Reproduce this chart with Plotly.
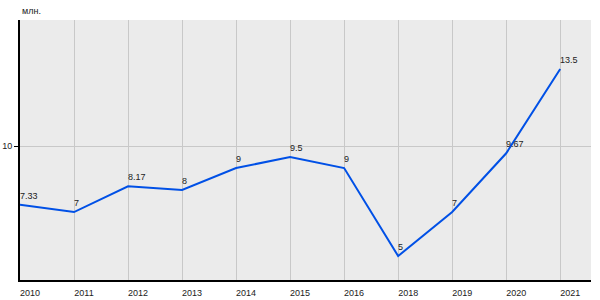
import plotly.graph_objects as go

years = ["2010", "2011", "2012", "2013", "2014", "2015", "2016", "2018", "2019", "2020", "2021"]
values = [7.33, 7, 8.17, 8, 9, 9.5, 9, 5, 7, 9.67, 13.5]
labels = ["7.33", "7", "8.17", "8", "9", "9.5", "9", "5", "7", "9.67", "13.5"]
y_ticks = [10]
unit = "млн."

FONT = dict(family="Liberation Sans, Arial", size=9, color="#222")

fig = go.Figure()
fig.add_trace(go.Scatter(
    x=years, y=values, mode="lines",
    line=dict(color="rgb(0,80,230)", width=2),
    cliponaxis=False, hoverinfo="skip",
))

annotations = [dict(
    text=unit, x=0, y=1, xref="paper", yref="paper",
    xanchor="left", yanchor="bottom", showarrow=False, yshift=2,
    font=FONT,
)]
for i, (v, lab) in enumerate(zip(values, labels)):
    annotations.append(dict(
        text=lab, x=i, y=v, xref="x", yref="y",
        xanchor="left", yanchor="bottom", showarrow=False,
        xshift=-1, yshift=3, borderpad=0, font=FONT,
    ))

fig.update_layout(
    width=600, height=300,
    margin=dict(l=20, r=9, t=20, b=20),
    paper_bgcolor="white", plot_bgcolor="#ebebeb",
    showlegend=False,
    font=FONT,
    xaxis=dict(
        type="category", range=[0, 10.57], automargin=False,
        showgrid=True, gridcolor="#c8c8c8", gridwidth=1,
        showline=True, linecolor="black", linewidth=2,
        ticks="", ticklabelshift=10, ticklabelstandoff=3,
        zeroline=False,
    ),
    yaxis=dict(
        range=[3.91, 15.73], tickvals=y_ticks, automargin=False,
        showgrid=True, gridcolor="#c8c8c8", gridwidth=1,
        showline=True, linecolor="black", linewidth=2,
        ticks="outside", ticklen=4, tickcolor="black",
        zeroline=False, ticklabelstandoff=0,
    ),
    annotations=annotations,
)

fig.write_html("out.html")
